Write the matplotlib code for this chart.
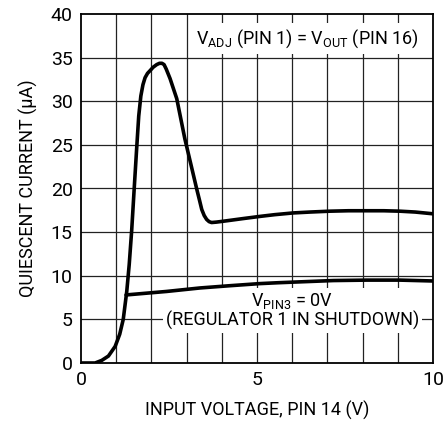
import matplotlib
matplotlib.use("Agg")
import matplotlib.pyplot as plt

# input voltage (V) vs quiescent current (uA)
vin_adj = [0.0, 0.4, 0.59, 0.78, 0.97, 1.10, 1.20, 1.30, 1.37, 1.44, 1.51, 1.58,
           1.64, 1.70, 1.76, 1.82, 1.89, 1.96, 2.05, 2.15, 2.23, 2.30, 2.36,
           2.42, 2.53, 2.72, 2.95, 3.12, 3.29, 3.37, 3.43, 3.50, 3.57, 3.64,
           3.71, 3.85, 4.14, 4.6, 5.08, 5.5, 6.03, 6.5, 7.07, 7.6, 8.12, 8.6,
           9.06, 9.5, 10.0]
iq_adj = [0.0, 0.0, 0.3, 0.8, 1.9, 3.3, 5.0, 8.2, 11.3, 15.2, 19.9, 24.5,
          28.3, 30.6, 31.9, 32.7, 33.2, 33.5, 33.9, 34.2, 34.35, 34.35, 34.2,
          33.7, 32.6, 30.3, 25.7, 22.8, 19.9, 18.6, 17.6, 16.9, 16.45, 16.2,
          16.1, 16.15, 16.3, 16.55, 16.8, 17.0, 17.2, 17.3, 17.4, 17.45, 17.45, 17.45,
          17.4, 17.3, 17.1]

vin_shdn = [1.28, 2.43, 3.38, 4.2, 5.08, 5.6, 6.22, 7.17, 8.12, 9.06, 10.0]
iq_shdn = [7.8, 8.2, 8.6, 8.85, 9.1, 9.2, 9.3, 9.45, 9.5, 9.5, 9.4]

xticks = [0, 5, 10]
yticks = [0, 5, 10, 15, 20, 25, 30, 35, 40]

font = "Roboto"
plt.rcParams['font.family'] = [font, 'DejaVu Sans']
plt.rcParams['mathtext.fontset'] = 'custom'
plt.rcParams['mathtext.rm'] = font

fig = plt.figure(figsize=(4.43, 4.23), dpi=100)
ax = fig.add_axes([81/443, 60/423, 352/443, 349/423])

for x in range(1, 10):
    ax.axvline(x, color='#222222', lw=0.9, zorder=1)
for y in yticks[1:-1]:
    ax.axhline(y, color='#222222', lw=0.9, zorder=1)

ax.plot(vin_adj, iq_adj, color='black', lw=2.6, solid_capstyle='round',
        solid_joinstyle='round', zorder=3)
ax.plot(vin_shdn, iq_shdn, color='black', lw=2.6, solid_capstyle='round',
        solid_joinstyle='round', zorder=3)

ax.set_xlim(0, 10)
ax.set_ylim(0, 40)
ax.set_xticks(xticks)
ax.set_yticks(yticks)
ax.tick_params(length=0, labelsize=14, pad=6)
for s in ax.spines.values():
    s.set_linewidth(1.3)

ax.set_xlabel("INPUT VOLTAGE, PIN 14 (V)", fontsize=13, labelpad=8)
ax.set_ylabel("QUIESCENT CURRENT (µA)", fontsize=13, labelpad=9)

# labels sit on white boxes over the grid, under the curves
ax.text(6.42, 37.2, r"V$\mathregular{_{ADJ}}$ (PIN 1) = V$\mathregular{_{OUT}}$ (PIN 16)",
        fontsize=13, ha='center', va='center', zorder=2,
        bbox=dict(facecolor='white', edgecolor='none', pad=3))
ax.text(6.0, 6.0, "V$\\mathregular{_{PIN3}}$ = 0V\n(REGULATOR 1 IN SHUTDOWN)",
        fontsize=13, ha='center', va='center', zorder=2, linespacing=1.0,
        bbox=dict(facecolor='white', edgecolor='none', pad=2))

fig.savefig("out.png", dpi=100)
